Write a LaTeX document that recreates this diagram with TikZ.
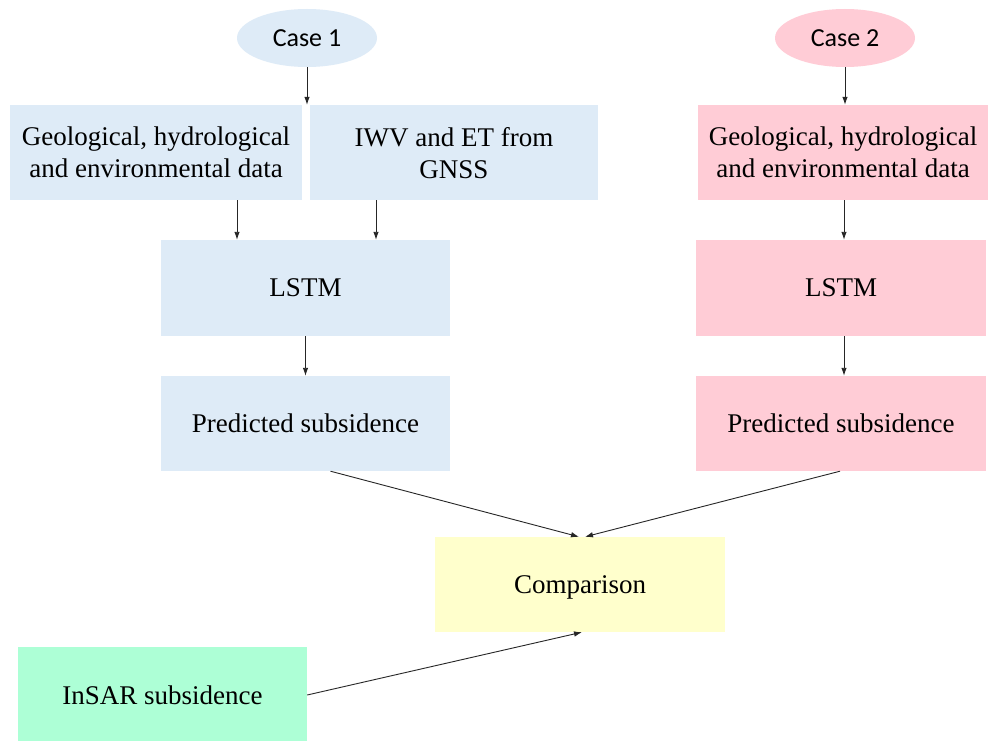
\documentclass[tikz,border=0pt]{standalone}
\usepackage{fontspec}
\setmainfont{Liberation Serif}
\newfontfamily\casefont{Carlito}
\usetikzlibrary{shapes.geometric,arrows.meta}
\definecolor{cblue}{HTML}{DEEBF7}
\definecolor{cpink}{HTML}{FFCCD6}
\definecolor{cyel}{HTML}{FFFFCC}
\definecolor{cgreen}{HTML}{ADFFD6}
\begin{document}
\begin{tikzpicture}[x=1pt,y=-1pt,
  box/.style={draw=none,inner sep=0pt,align=center,text depth=0pt,font=\fontsize{27}{32}\selectfont},
  casenode/.style={ellipse,draw=none,inner sep=0pt,minimum width=140pt,minimum height=58pt,font=\casefont\fontsize{26}{30}\selectfont},
  arr/.style={-{Latex[length=8pt,width=5.5pt]},line width=0.9pt,black!85}]
\useasboundingbox[fill=white] (0,0) rectangle (990,741);
\node[casenode,fill=cblue] (case1) at (307,38) {Case 1};
\node[casenode,fill=cpink] (case2) at (845,38) {Case 2};
\node[box,fill=cblue,minimum width=292pt,minimum height=95pt] (geo1) at (156,152.5) {Geological, hydrological\\and environmental data};
\node[box,fill=cblue,minimum width=288pt,minimum height=95pt] (iwv) at (454,152.5) {IWV and ET from\\GNSS};
\node[box,fill=cpink,minimum width=290pt,minimum height=95pt] (geo2) at (843,152.5) {Geological, hydrological\\and environmental data};
\node[box,fill=cblue,minimum width=289pt,minimum height=96pt] (lstm1) at (305.5,288) {LSTM};
\node[box,fill=cpink,minimum width=290pt,minimum height=96pt] (lstm2) at (841,288) {LSTM};
\node[box,fill=cblue,minimum width=289pt,minimum height=95pt] (pred1) at (305.5,423.5) {Predicted subsidence};
\node[box,fill=cpink,minimum width=290pt,minimum height=95pt] (pred2) at (841,423.5) {Predicted subsidence};
\node[box,fill=cyel,minimum width=290pt,minimum height=95pt] (comp) at (580,584.5) {Comparison};
\node[box,fill=cgreen,minimum width=289pt,minimum height=96pt] (insar) at (162.5,695) {InSAR subsidence};
\draw[arr] (case1.south) -- (case1.south |- geo1.north);
\draw[arr] (case2.south) -- (case2.south |- geo2.north);
\draw[arr] ([xshift=81pt]geo1.south) -- ([xshift=81pt]geo1.south |- lstm1.north);
\draw[arr] ([xshift=-78pt]iwv.south) -- ([xshift=-78pt]iwv.south |- lstm1.north);
\draw[arr] ([xshift=1pt]geo2.south) -- ([xshift=1pt]geo2.south |- lstm2.north);
\draw[arr] (lstm1.south) -- (pred1.north);
\draw[arr] ([xshift=3pt]lstm2.south) -- ([xshift=3pt]lstm2.south |- pred2.north);
\draw[arr] ([xshift=25pt]pred1.south) -- ([xshift=-1pt]comp.north);
\draw[arr] ([xshift=-1pt]pred2.south) -- ([xshift=5pt]comp.north);
\draw[arr] (insar.east) -- ([xshift=2pt]comp.south);
\end{tikzpicture}
\end{document}
